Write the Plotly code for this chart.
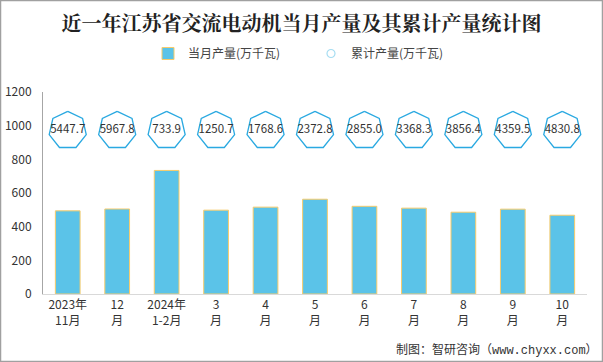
import math
import plotly.graph_objects as go

categories = ["2023年<br>11月", "12<br>月", "2024年<br>1-2月", "3<br>月", "4<br>月", "5<br>月",
              "6<br>月", "7<br>月", "8<br>月", "9<br>月", "10<br>月"]
monthly = [494, 505, 734, 498, 516, 563, 521, 510, 486, 504, 468]
cumulative = [5447.7, 5967.8, 733.9, 1250.7, 1768.6, 2372.8, 2855.0, 3368.3, 3856.4, 4359.5, 4830.8]
label_level = [972] * len(categories)  # height at which the cumulative badges sit

W, H = 603, 362
ML, MR, MT, MB = 43, 16, 92, 68
YMAX = 1200
PW, PH = W - ML - MR, H - MT - MB
x = list(range(len(categories)))
px_x = PW / len(categories)
px_y = PH / YMAX

# heptagon outlines around cumulative labels
R = 19
hx, hy = [], []
for xi, yi in zip(x, label_level):
    for k in range(8):
        a = math.radians(90 + k * 360 / 7)
        hx.append(xi + R * math.cos(a) / px_x)
        hy.append(yi + R * math.sin(a) / px_y)
    hx.append(None)
    hy.append(None)

font_cn = "Microsoft YaHei, Noto Sans CJK SC, sans-serif"

fig = go.Figure()
fig.add_trace(go.Bar(
    x=x, y=monthly, width=0.5, name="当月产量(万千瓦)",
    marker=dict(color="#5BC3E8", line=dict(color="#F7CB6B", width=1)),
    hoverinfo="y",
))
fig.add_trace(go.Scatter(
    x=hx, y=hy, mode="lines", line=dict(color="#2AA9E1", width=1.3),
    showlegend=False, hoverinfo="skip",
))
fig.add_trace(go.Scatter(
    x=x, y=label_level, mode="text", text=[f"{v:.1f}" for v in cumulative],
    textfont=dict(size=11.5, color="#333333", family=font_cn),
    showlegend=False, hoverinfo="text",
))
fig.add_trace(go.Scatter(
    x=[None], y=[None], mode="markers", name="累计产量(万千瓦)",
    marker=dict(symbol="circle-open", size=8, color="#A6DDF2", line=dict(width=1.2)),
))

fig.update_layout(
    width=W, height=H,
    margin=dict(l=ML, r=MR, t=MT, b=MB, autoexpand=False),
    paper_bgcolor="white", plot_bgcolor="white",
    title=dict(text="<b>近一年江苏省交流电动机当月产量及其累计产量统计图</b>",
               x=0.5, xanchor="center", y=1 - 23.5 / H, yanchor="middle",
               font=dict(size=20, color="#222222", family="Noto Serif CJK SC, Noto Sans CJK SC, serif")),
    legend=dict(orientation="h", x=(148 - ML) / PW, xanchor="left", y=1 + (MT - 53.5) / PH, yanchor="middle",
                font=dict(size=12, color="#444444", family=font_cn),
                traceorder="normal", itemwidth=30, entrywidth=118),
    font=dict(family=font_cn, color="#333333"),
    showlegend=True,
    shapes=[dict(type="rect", xref="paper", yref="paper", x0=-ML / PW + 0.5 / PW, x1=1 + (MR - 0.5) / PW,
                 y0=-(MB - 0.5) / PH, y1=1 + (MT - 0.5) / PH,
                 line=dict(color="#A0A0A0", width=1.5), fillcolor="rgba(0,0,0,0)")],
    annotations=[dict(text="制图：智研咨询（www.chyxx.com）", xref="paper", yref="paper",
                      x=1 + 13 / PW, xanchor="right", y=-(350 - (MT + PH)) / PH, yanchor="middle",
                      showarrow=False,
                      font=dict(size=12, color="#333333", family="Liberation Mono, Noto Sans CJK SC, monospace"))],
)
fig.update_xaxes(range=[-0.5, len(categories) - 0.5], tickvals=x, ticktext=categories,
                 showline=True, linecolor="#D9D9D9", linewidth=1, ticks="", showgrid=False,
                 tickfont=dict(size=12, color="#333333"), zeroline=False)
fig.update_yaxes(range=[0, YMAX], dtick=200, showline=True, linecolor="#A6A6A6", linewidth=1,
                 showgrid=False, zeroline=False, ticks="", ticklabelstandoff=8,
                 tickfont=dict(size=12, color="#333333"))

fig.write_html("out.html", config={"displayModeBar": False},
               post_script="document.body.style.margin='0';document.body.style.overflow='hidden';")
